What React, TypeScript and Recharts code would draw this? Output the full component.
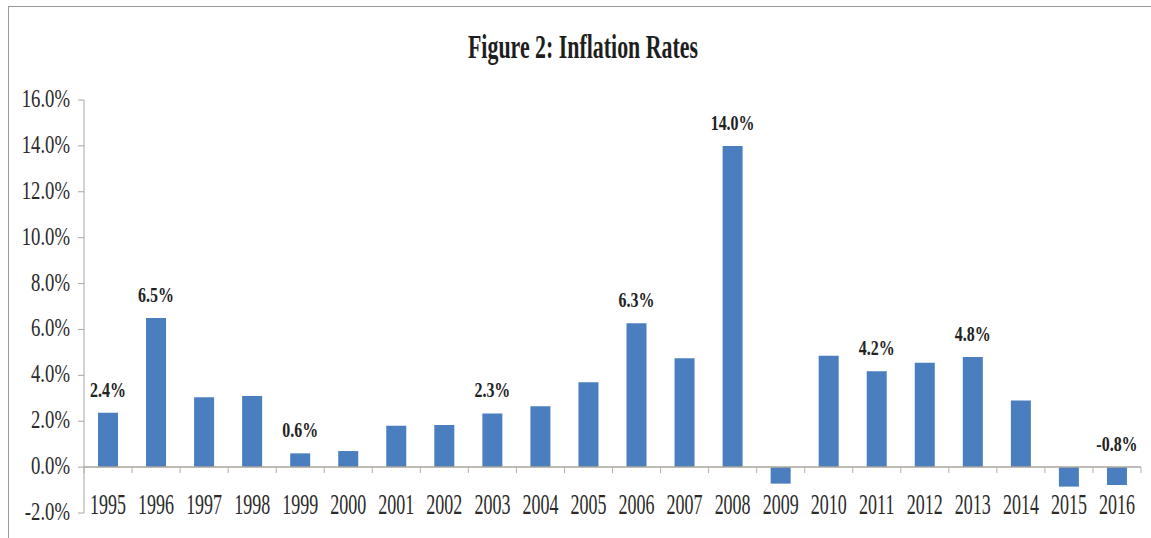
import React from 'react';
import { BarChart, Bar, XAxis, YAxis, ReferenceLine, LabelList } from 'recharts';

const years = ['1995', '1996', '1997', '1998', '1999', '2000', '2001', '2002', '2003', '2004', '2005', '2006', '2007', '2008', '2009', '2010', '2011', '2012', '2013', '2014', '2015', '2016'];
const inflation = [2.37, 6.5, 3.05, 3.1, 0.6, 0.7, 1.8, 1.83, 2.34, 2.65, 3.7, 6.27, 4.75, 14.0, -0.72, 4.85, 4.18, 4.55, 4.8, 2.9, -0.85, -0.78];
const labeledYears = ['1995', '1996', '1999', '2003', '2006', '2008', '2011', '2013', '2016'];
const yTicks = [-2, 0, 2, 4, 6, 8, 10, 12, 14, 16];
const title = 'Figure 2: Inflation Rates';

const data = years.map((y, i) => ({
  year: y,
  value: inflation[i],
  label: labeledYears.includes(y) ? inflation[i].toFixed(1) + '%' : null,
}));

const FONT = '"Liberation Serif", "Times New Roman", serif';
const W = 1151;
const H = 538;
const PLOT_TOP = 100;
const PLOT_BOTTOM = 513;
const DMIN = -2;
const DMAX = 16;
const ZERO_Y = PLOT_TOP + ((DMAX - 0) / (DMAX - DMIN)) * (PLOT_BOTTOM - PLOT_TOP);
const BAND_HALF = 24;

const YTick = (props: any) => {
  const { x, y, payload } = props;
  return (
    <g transform={`translate(${x},${y})`}>
      <text transform="scale(0.72,1)" x={0} y={7} textAnchor="end" fontFamily={FONT} fontSize={26} fill="#2a2a2a">
        {Number(payload.value).toFixed(1) + '%'}
      </text>
    </g>
  );
};

const XTick = (props: any) => {
  const { x, payload, index } = props;
  return (
    <g>
      <line x1={x - BAND_HALF} x2={x - BAND_HALF} y1={ZERO_Y} y2={ZERO_Y + 6} stroke="#b5b0a8" strokeWidth={1} />
      {index === years.length - 1 && (
        <line x1={x + BAND_HALF} x2={x + BAND_HALF} y1={ZERO_Y} y2={ZERO_Y + 6} stroke="#b5b0a8" strokeWidth={1} />
      )}
      <g transform={`translate(${x},${514})`}>
        <text transform="scale(0.6,1)" x={0} y={0} textAnchor="middle" fontFamily={FONT} fontSize={30} fill="#2a2a2a">
          {payload.value}
        </text>
      </g>
    </g>
  );
};

const BarLabel = (props: any) => {
  const { x, y, width, height, value } = props;
  if (value === null || value === undefined) return null;
  const top = Math.min(y, y + height);
  const cx = x + width / 2;
  return (
    <g transform={`translate(${cx},${top - 16})`}>
      <text transform="scale(0.76,1)" x={0} y={0} textAnchor="middle" fontFamily={FONT} fontWeight="bold" fontSize={21} fill="#222">
        {value}
      </text>
    </g>
  );
};

export default function App() {
  return (
    <div style={{ position: 'absolute', left: 0, top: 0, width: W, height: H, background: '#fff', overflow: 'hidden' }}>
      <div style={{ position: 'absolute', left: 8, top: 6, width: W - 8, height: H - 6, borderLeft: '1px solid #9a9a9a', borderTop: '1px solid #9a9a9a', boxSizing: 'border-box' }} />
      <svg style={{ position: 'absolute', left: 0, top: 0 }} width={W} height={80}>
        <text x={583} y={58} textAnchor="middle" fontFamily={FONT} fontWeight="bold" fontSize={33} fill="#1e1e1e" textLength={230} lengthAdjust="spacingAndGlyphs">
          {title}
        </text>
      </svg>
      <div style={{ position: 'absolute', left: 0, top: 0 }}>
        <BarChart width={W} height={H} data={data} margin={{ top: PLOT_TOP, right: 10, bottom: 0, left: 0 }}>
          <YAxis
            domain={[DMIN, DMAX]}
            ticks={yTicks}
            width={84}
            interval={0}
            axisLine={{ stroke: '#a6a6a6' }}
            tickLine={{ stroke: '#a6a6a6' }}
            tickSize={6}
            tickMargin={8}
            tick={<YTick />}
          />
          <XAxis
            dataKey="year"
            height={H - PLOT_BOTTOM}
            axisLine={false}
            tickLine={false}
            interval={0}
            tick={<XTick />}
          />
          <ReferenceLine y={0} stroke="#aaa49c" strokeWidth={1.5} />
          <Bar dataKey="value" fill="#4a7ebf" barSize={20} isAnimationActive={false}>
            <LabelList dataKey="label" content={<BarLabel />} />
          </Bar>
        </BarChart>
      </div>
    </div>
  );
}
